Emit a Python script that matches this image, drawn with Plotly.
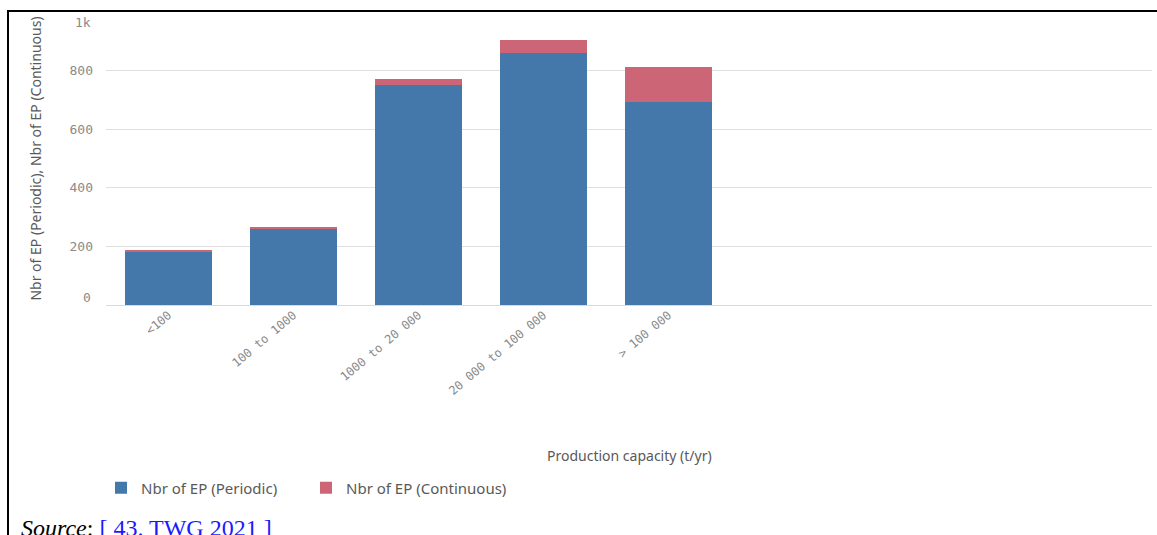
import plotly.graph_objects as go

categories = ["<100", "100 to 1000", "1000 to 20 000", "20 000 to 100 000", "> 100 000"]
periodic = [180, 260, 750, 860, 692]
continuous = [7, 4, 22, 45, 120]
ytick_vals = [200, 400, 600, 800]
ytick_text = ["200", "400", "600", "800"]
# end labels of the y axis (drawn inset like the original)
yend_vals = [0, 1000]
yend_text = ["0", "1k"]

W, H = 1157, 535
L, R, T, B = 106, 5, 12, 230
pw = W - L - R
ph = H - T - B

def px(x):
    return (x - L) / pw

def py(y):
    return (H - B - y) / ph

fig = go.Figure()
fig.add_trace(go.Bar(x=categories, y=periodic, name="Nbr of EP (Periodic)",
                     marker=dict(color="#4477aa", line=dict(width=0))))
fig.add_trace(go.Bar(x=categories, y=continuous, name="Nbr of EP (Continuous)",
                     marker=dict(color="#cc6677", line=dict(width=0))))

mono = "DejaVu Sans Mono"
sans = "Noto Sans"

annotations = [
    dict(text="Production capacity (t/yr)", x=0.5, y=py(456), xref="paper", yref="paper",
         showarrow=False, xanchor="center", yanchor="middle",
         font=dict(family=sans, size=14, color="#595959")),
    dict(text="<i>Source</i>: <span style='color:#1a1aff'>[ 43. TWG 2021 ]</span>",
         x=px(19), y=py(513), xref="paper", yref="paper", showarrow=False,
         xanchor="left", yanchor="top",
         font=dict(family="Liberation Serif", size=24, color="black")),
]
for v, t in zip(yend_vals, yend_text):
    annotations.append(dict(text=t, x=px(93), xref="paper", y=v, yref="y",
                            yshift=(8 if v == 0 else -10), showarrow=False,
                            xanchor="right", yanchor="middle",
                            font=dict(family=mono, size=13, color="#8a8a8a")))

fig.update_layout(
    width=W, height=H,
    margin=dict(l=L, r=R, t=T, b=B),
    barmode="stack",
    bargap=0.304,
    plot_bgcolor="white",
    paper_bgcolor="white",
    showlegend=True,
    legend=dict(orientation="h", x=px(101), y=py(488), xanchor="left", yanchor="middle",
                font=dict(family=sans, size=15, color="#595959"),
                itemwidth=30, traceorder="normal", entrywidth=160),
    xaxis=dict(type="category", range=[-0.5, 7.87], tickangle=-40,
               tickfont=dict(family=mono, size=12, color="#8a8a8a"),
               showgrid=False, showline=False, ticks=""),
    yaxis=dict(range=[0, 1000], tickvals=ytick_vals, ticktext=ytick_text,
               tickfont=dict(family=mono, size=13, color="#8a8a8a"),
               showgrid=True, gridcolor="#e0e0e0", gridwidth=1,
               zeroline=True, zerolinecolor="#d9d9d9", zerolinewidth=1,
               ticks="", ticklabelstandoff=12,
               title=dict(text="Nbr of EP (Periodic), Nbr of EP (Continuous)",
                          font=dict(family=sans, size=14, color="#595959"),
                          standoff=24)),
    annotations=annotations,
    shapes=[
        dict(type="line", xref="paper", yref="paper", x0=px(7), x1=px(1157), y0=py(11), y1=py(11),
             line=dict(color="black", width=2)),
        dict(type="line", xref="paper", yref="paper", x0=px(8), x1=px(8), y0=py(10), y1=py(540),
             line=dict(color="black", width=2)),
    ],
)

fig.write_html("out.html", config={"displayModeBar": False},
               post_script="document.body.style.margin='0';document.body.style.overflow='hidden';")
